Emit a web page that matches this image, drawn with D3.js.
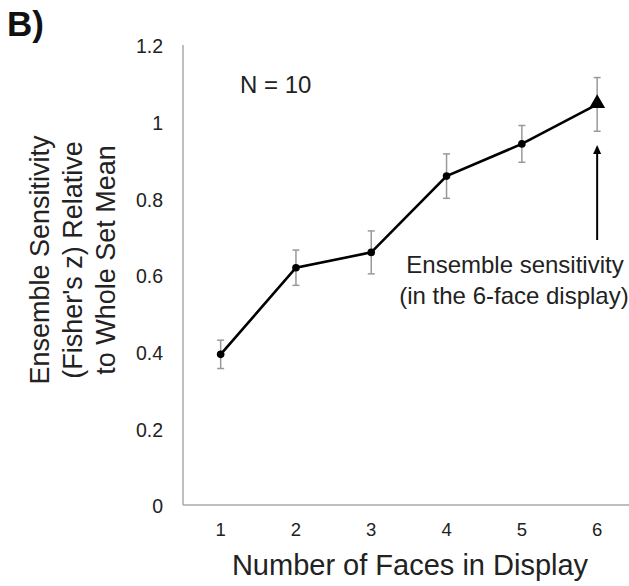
<!DOCTYPE html>
<html><head><meta charset="utf-8">
<script src="https://cdn.jsdelivr.net/npm/d3@7"></script>
<style>body{margin:0;background:#fff}svg{display:block;font-family:"Liberation Sans",Arial,sans-serif}</style>
</head><body><svg id="c" width="629" height="586"></svg>
<script>
// Ensemble sensitivity by display size
const faces = [1, 2, 3, 4, 5, 6];
const sensitivity = [0.393, 0.619, 0.659, 0.858, 0.942, 1.045];
const errors = [0.037, 0.046, 0.056, 0.058, 0.048, 0.07];
const yTicks = [0, 0.2, 0.4, 0.6, 0.8, 1, 1.2];

const svg = d3.select("#c");
const plotLeft = 183, plotTop = 45, plotBottom = 505, bandW = 75.3;
const x = d3.scaleBand().domain(faces).range([plotLeft, plotLeft + bandW * faces.length]);
const y = d3.scaleLinear().domain([0, 1.2]).range([plotBottom, plotTop]);
const cx = d => x(d) + x.bandwidth() / 2;
const font = "Liberation Sans, Arial, sans-serif";

// axes
const axisColor = "#a8a8a8";
svg.append("line").attr("x1", plotLeft).attr("x2", plotLeft).attr("y1", y(1.2)).attr("y2", y(0))
  .attr("stroke", axisColor).attr("stroke-width", 1.5);
svg.append("line").attr("x1", plotLeft).attr("x2", x.range()[1]).attr("y1", y(0)).attr("y2", y(0))
  .attr("stroke", axisColor).attr("stroke-width", 1.5);

const yAx = svg.append("g").attr("transform", `translate(${plotLeft},0)`)
  .call(d3.axisLeft(y).tickValues(yTicks).tickSize(0).tickPadding(20).tickFormat(d => d3.format("")(d)));
yAx.select(".domain").remove();
yAx.selectAll("text").attr("font-size", 19.5).attr("fill", "#222").attr("font-family", font).attr("dy", "0.4em");

const xAx = svg.append("g").attr("transform", `translate(0,${y(0)})`)
  .call(d3.axisBottom(x).tickSize(0).tickPadding(18));
xAx.select(".domain").remove();
xAx.selectAll("text").attr("font-size", 18.5).attr("fill", "#222").attr("font-family", font);

// titles
svg.append("text").attr("x", 410).attr("y", 575).attr("text-anchor", "middle")
  .attr("font-size", 29).attr("fill", "#222").text("Number of Faces in Display");

const yTitle = ["Ensemble Sensitivity", "(Fisher's z) Relative", "to Whole Set Mean"];
const yt = svg.append("text").attr("transform", "translate(49,260) rotate(-90)")
  .attr("text-anchor", "middle").attr("font-size", 27).attr("fill", "#222");
yTitle.forEach((t, i) => yt.append("tspan").attr("x", 0).attr("dy", i === 0 ? 0 : 33).text(t));

svg.append("text").attr("x", 7).attr("y", 36).attr("font-size", 35).attr("font-weight", "bold")
  .attr("fill", "#111").text("B)");

svg.append("text").attr("x", 240).attr("y", 93).attr("font-size", 24).attr("fill", "#222").text("N = 10");

// error bars
const eb = svg.append("g").attr("stroke", "#999").attr("stroke-width", 1.5);
faces.forEach((f, i) => {
  const xc = cx(f), hi = y(sensitivity[i] + errors[i]), lo = y(sensitivity[i] - errors[i]);
  eb.append("line").attr("x1", xc).attr("x2", xc).attr("y1", hi).attr("y2", lo);
  eb.append("line").attr("x1", xc - 3.5).attr("x2", xc + 3.5).attr("y1", hi).attr("y2", hi);
  eb.append("line").attr("x1", xc - 3.5).attr("x2", xc + 3.5).attr("y1", lo).attr("y2", lo);
});

// line + markers
const pts = faces.map((f, i) => [cx(f), y(sensitivity[i])]);
svg.append("path").attr("d", d3.line()(pts)).attr("fill", "none").attr("stroke", "#000").attr("stroke-width", 2.6);
svg.selectAll("circle.pt").data(pts.slice(0, 5)).join("circle")
  .attr("cx", d => d[0]).attr("cy", d => d[1]).attr("r", 3.8).attr("fill", "#000");
const last = pts[pts.length - 1];
svg.append("path").attr("d", d3.symbol(d3.symbolTriangle, 110)())
  .attr("transform", `translate(${last[0]},${last[1] - 1})`).attr("fill", "#000");

// annotation arrow
const ax = last[0];
svg.append("line").attr("x1", ax).attr("x2", ax).attr("y1", 240).attr("y2", 152)
  .attr("stroke", "#000").attr("stroke-width", 2);
svg.append("path").attr("d", `M${ax},145 L${ax - 4},154 L${ax + 4},154 Z`).attr("fill", "#000");
svg.append("text").attr("x", 515).attr("y", 273).attr("text-anchor", "middle").attr("font-size", 24)
  .attr("fill", "#222").text("Ensemble sensitivity");
svg.append("text").attr("x", 514).attr("y", 304).attr("text-anchor", "middle").attr("font-size", 24)
  .attr("fill", "#222").text("(in the 6-face display)");
</script></body></html>
